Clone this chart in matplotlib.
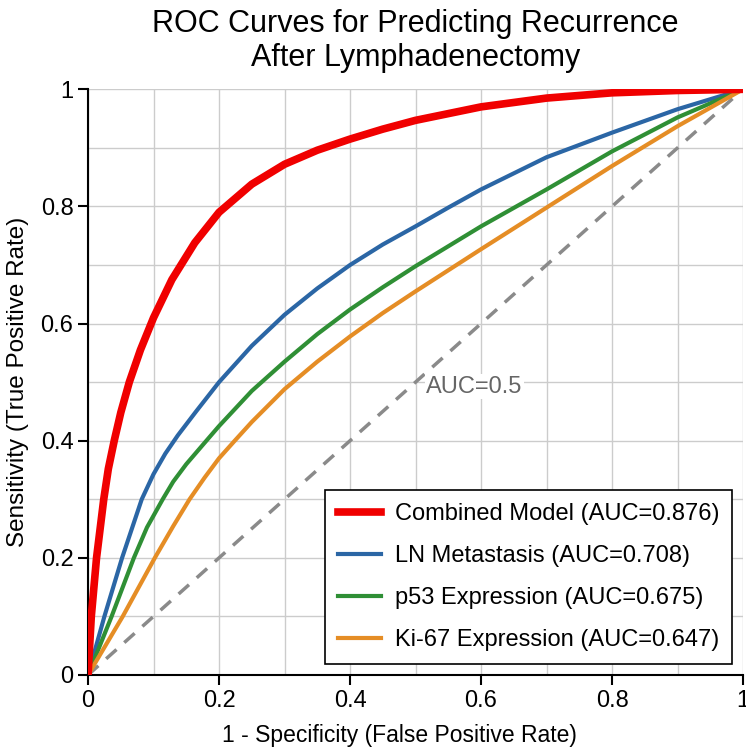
import numpy as np
import matplotlib
matplotlib.use("Agg")
import matplotlib.pyplot as plt
from matplotlib.ticker import FormatStrFormatter

plt.rcParams["font.family"] = ["Liberation Sans", "DejaVu Sans"]

# ROC points
combined_fpr = [0, 0.005, 0.013, 0.024, 0.031, 0.04, 0.05, 0.063, 0.08, 0.1, 0.128, 0.163,
                0.2, 0.25, 0.3, 0.35, 0.4, 0.45, 0.5, 0.6, 0.7, 0.8, 0.9, 1.0]
combined_tpr = [0, 0.1, 0.2, 0.3, 0.352, 0.4, 0.448, 0.5, 0.555, 0.61, 0.675, 0.738,
                0.79, 0.838, 0.872, 0.896, 0.915, 0.932, 0.947, 0.97, 0.985, 0.994, 0.998, 1.0]

ln_fpr = [0, 0.025, 0.052, 0.082, 0.1, 0.118, 0.137, 0.165, 0.2, 0.25, 0.3, 0.35, 0.4,
          0.45, 0.5, 0.55, 0.6, 0.7, 0.8, 0.9, 1.0]
ln_tpr = [0, 0.1, 0.2, 0.3, 0.343, 0.378, 0.409, 0.45, 0.5, 0.562, 0.615, 0.66, 0.70,
          0.735, 0.766, 0.798, 0.829, 0.884, 0.926, 0.966, 1.0]

p53_fpr = [0, 0.036, 0.07, 0.09, 0.114, 0.13, 0.15, 0.183, 0.2, 0.25, 0.3, 0.35, 0.4,
           0.45, 0.5, 0.6, 0.7, 0.8, 0.9, 1.0]
p53_tpr = [0, 0.1, 0.2, 0.252, 0.3, 0.33, 0.36, 0.403, 0.425, 0.485, 0.535, 0.582, 0.624,
           0.662, 0.698, 0.766, 0.829, 0.894, 0.952, 1.0]

ki67_fpr = [0, 0.053, 0.102, 0.13, 0.155, 0.178, 0.2, 0.224, 0.25, 0.3, 0.35, 0.4, 0.45,
            0.5, 0.6, 0.7, 0.8, 0.9, 1.0]
ki67_tpr = [0, 0.1, 0.2, 0.254, 0.3, 0.337, 0.37, 0.4, 0.432, 0.488, 0.535, 0.578, 0.618,
            0.655, 0.727, 0.798, 0.869, 0.937, 1.0]

labels = ["Combined Model (AUC=0.876)", "LN Metastasis (AUC=0.708)",
          "p53 Expression (AUC=0.675)", "Ki-67 Expression (AUC=0.647)"]
colors = ["#f00000", "#2b66a5", "#2f8f35", "#e58d25"]

fig = plt.figure(figsize=(7.46, 7.48), dpi=100)
ax = fig.add_axes([0.118, 0.0976, 0.878, 0.783])

ax.plot([0, 1], [0, 1], linestyle=(0, (4, 3)), color="#8a8a8a", lw=2.5, zorder=2)
ax.text(0.59, 0.492, "AUC=0.5", color="#666666", fontsize=17, ha="center", va="center",
        bbox=dict(facecolor="white", edgecolor="none", pad=1), zorder=3)

ax.plot(combined_fpr, combined_tpr, color=colors[0], lw=5.5, label=labels[0], zorder=5,
        solid_joinstyle="round")
ax.plot(ln_fpr, ln_tpr, color=colors[1], lw=3, label=labels[1], zorder=4,
        solid_joinstyle="round")
ax.plot(p53_fpr, p53_tpr, color=colors[2], lw=3, label=labels[2], zorder=4,
        solid_joinstyle="round")
ax.plot(ki67_fpr, ki67_tpr, color=colors[3], lw=3, label=labels[3], zorder=4,
        solid_joinstyle="round")

ax.set_xlim(0, 1)
ax.set_ylim(0, 1)
ax.set_xticks(np.arange(0, 1.01, 0.2))
ax.set_yticks(np.arange(0, 1.01, 0.2))
ax.set_xticks(np.arange(0, 1.01, 0.1), minor=True)
ax.set_yticks(np.arange(0, 1.01, 0.1), minor=True)
ax.xaxis.set_major_formatter(FormatStrFormatter("%g"))
ax.yaxis.set_major_formatter(FormatStrFormatter("%g"))
ax.tick_params(which="major", direction="out", length=7, width=1.5, labelsize=17)
ax.tick_params(which="minor", length=0)
ax.grid(which="both", color="#cccccc", lw=1)
ax.set_axisbelow(True)

for s in ["top", "right"]:
    ax.spines[s].set_visible(False)
for s in ["left", "bottom"]:
    ax.spines[s].set_linewidth(1.5)

ax.set_xlabel("1 - Specificity (False Positive Rate)", fontsize=16.5, labelpad=9, x=0.475)
ax.set_ylabel("Sensitivity (True Positive Rate)", fontsize=17.5, labelpad=8)
ax.set_title("ROC Curves for Predicting Recurrence\nAfter Lymphadenectomy", fontsize=22,
             pad=17, linespacing=1.15)

leg = ax.legend(loc="lower right", fontsize=17, handlelength=1.8, handletextpad=0.6,
                labelspacing=0.85, borderpad=0.55, fancybox=False, edgecolor="black",
                framealpha=1, borderaxespad=0.45)
leg.get_frame().set_linewidth(1.2)

fig.savefig("out.png", dpi=100)
